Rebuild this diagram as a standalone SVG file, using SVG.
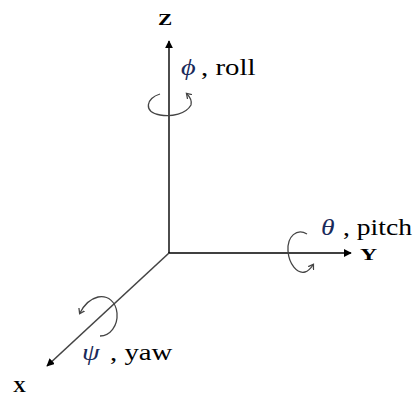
<svg xmlns="http://www.w3.org/2000/svg" width="414" height="396" viewBox="0 0 414 396">
<defs>
<style>
.axis{stroke:#000;stroke-width:1.4;fill:none}
.xaxis{stroke:#444;stroke-width:1.6;fill:none}
.rot{stroke:#444;stroke-width:1.3;fill:none}
.lbl{font-family:"Liberation Serif",serif;font-size:24px;fill:#000}
.ax{font-family:"Liberation Serif",serif;font-size:17px;font-weight:bold;fill:#000}
.gr{font-family:"Liberation Serif",serif;font-style:italic;font-size:24px;fill:#1a2a5a}
</style>
<marker id="ah" viewBox="0 0 10 10" refX="9" refY="5" markerWidth="8" markerHeight="8" orient="auto" markerUnits="userSpaceOnUse">
<path d="M0,0 L10,5 L0,10 z" fill="#000"/>
</marker>
<marker id="rh" viewBox="0 0 10 10" refX="5" refY="5" markerWidth="8" markerHeight="8" orient="auto" markerUnits="userSpaceOnUse">
<path d="M0,1 L6,5 L0,9" fill="none" stroke="#444" stroke-width="1.6"/>
</marker>
</defs>
<g id="connectors">
<line class="axis" x1="169" y1="253" x2="169" y2="41" marker-end="url(#ah)"/>
<line class="axis" x1="168" y1="253" x2="351" y2="253" marker-end="url(#ah)"/>
<line class="xaxis" x1="169" y1="253" x2="47" y2="366" marker-end="url(#ah)"/>
</g>
<g id="z-axis">
<text class="ax" transform="translate(158,25) scale(1.25,1)">Z</text>
<path class="rot" d="M160,94 C146,98 143,112 160,115 C172,117 186,114 191,105 C192,101 190,97 187,94" marker-end="url(#rh)"/>
<text class="gr" transform="translate(181,75) scale(1.18,1)">ϕ</text>
<text class="lbl" transform="translate(201,75) scale(1.2,1)">, roll</text>
</g>
<g id="y-axis">
<text class="ax" transform="translate(360,260) scale(1.4,1)">Y</text>
<path class="rot" d="M307,234 C297,228 287,236 288,251 C289,264 297,274 305,272 C309,271 311,268 313,265" marker-end="url(#rh)"/>
<text class="gr" transform="translate(321,235) scale(1.15,1)">θ</text>
<text class="lbl" transform="translate(343,235) scale(1.15,1)">, pitch</text>
</g>
<g id="x-axis">
<text class="ax" transform="translate(13,392) scale(1.05,1)">X</text>
<path class="rot" d="M100,336 C110,336 118,326 117,313 C116,302 108,295 98,297 C90,299 84,305 80,313" marker-end="url(#rh)"/>
<text class="gr" transform="translate(82,360) scale(1.18,1)">ψ</text>
<text class="lbl" transform="translate(110,360) scale(1.2,1)">, yaw</text>
</g>
</svg>
